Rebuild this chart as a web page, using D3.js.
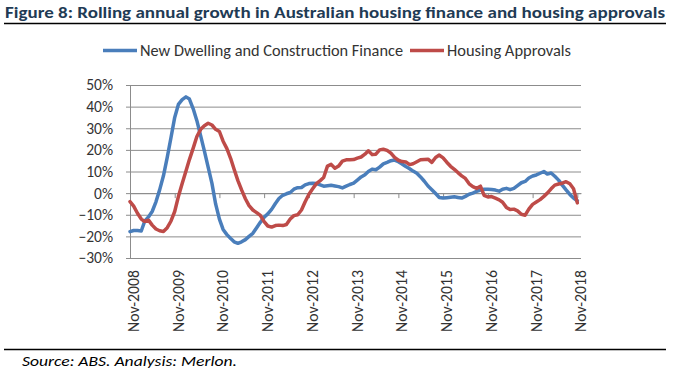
<!DOCTYPE html>
<html>
<head>
<meta charset="utf-8">
<script src="https://cdn.jsdelivr.net/npm/d3@7"></script>
<style>
  body { margin: 0; background: #fff; }
  svg { display: block; font-family: Calibri, Lato, sans-serif; }
</style>
</head>
<body>
<svg width="676" height="372"></svg>
<script>
// monthly rolling annual growth (%), Nov-2008 .. Nov-2018
const financeGrowth = [
  -17.8, -17.3, -17.3, -17.5, -13, -11, -8.5, -4, 1.5, 8, 16.5, 25.5,
  35, 41, 43.2, 44.5, 43.5, 39, 33.5, 26.5, 19.5, 12, 4.5, -5,
  -12, -16.8, -19.2, -21, -22.5, -23.2, -22.5, -21.5, -20, -18.6, -16, -13.5,
  -11.2, -9.6, -7.5, -4.8, -2.5, -1, -0.3, 0.3, 1.8, 2.5, 2.6, 3.8,
  4.4, 4.6, 4.4, 3.8, 3.2, 3.4, 3.6, 3.3, 3, 2.4, 3.2, 4,
  4.6, 6, 7.5, 8.5, 10, 11.1, 10.8, 12, 13.5, 14.2, 15, 15.3,
  14.5, 13.5, 12.3, 11.3, 10.2, 9.2, 7.5, 5.5, 3.3, 1.6, -0.2, -2,
  -2.3, -2.1, -1.9, -1.7, -2, -2.3, -1.5, -0.5, 0, 0.8, 1.4, 1.8,
  1.8, 1.7, 1.4, 0.9, 1.8, 2.2, 1.6, 2.2, 3.5, 4.8, 5.4, 7,
  7.9, 8.4, 9.2, 10, 8.8, 9.3, 7.8, 6, 3.7, 1.5, -0.6, -2.3,
  -3.5
];
const approvalsGrowth = [
  -3.9, -6, -9.3, -12, -13.1, -12.5, -14.8, -16.6, -17.4, -17.7, -16, -13,
  -8.5, -1.6, 4.5, 10.2, 15.5, 20.8, 26.2, 29.5, 31.2, 32.3, 31.5, 29.5,
  28.5, 24, 20.6, 16, 11, 5.8, 1.5, -2.6, -5.8, -7.8, -9, -10.3,
  -13.2, -15.2, -15.7, -15, -14.8, -15, -14.5, -12, -10.4, -10, -7.8, -4,
  -0.5, 2, 4.4, 5.8, 7.2, 12.5, 13.3, 11.5, 12.5, 14.8, 15.4, 15.4,
  15.5, 16.2, 16.7, 18, 19.6, 17.8, 18, 20, 20.3, 19.8, 18.5, 16.5,
  15.2, 14.6, 14.4, 13.2, 13.6, 14.5, 15.4, 15.6, 15.7, 14.2, 16.5, 17.6,
  16.3, 14.3, 12.4, 11, 9.5, 8, 6.8, 4.3, 3, 2.2, 3.2, -1,
  -1.8, -1.6, -2.3, -3.1, -4.2, -6.6, -7.6, -7.4, -8.2, -9.8, -10.2, -7.4,
  -5.2, -4.1, -3, -1.5, 0, 2, 3.7, 4.2, 4.6, 5.3, 4.3, 2,
  -4.5
];
const seriesNames = ["New Dwelling and Construction Finance", "Housing Approvals"];
const seriesColors = ["#4a7ebb", "#be4b48"];
const yTicks = [-0.3, -0.2, -0.1, 0, 0.1, 0.2, 0.3, 0.4, 0.5];
const xTickLabels = ["Nov-2008", "Nov-2009", "Nov-2010", "Nov-2011", "Nov-2012", "Nov-2013",
  "Nov-2014", "Nov-2015", "Nov-2016", "Nov-2017", "Nov-2018"];

const parseTick = d3.timeParse("%b-%Y");
const months = d3.timeMonth.range(new Date(2008, 10, 1), new Date(2018, 11, 1));

const svg = d3.select("svg");
const plot = {left: 130, right: 581, top: 85, bottom: 258};
const tickFont = 15.5;

const x = d3.scaleTime()
    .domain([new Date(2008, 10, 1), new Date(2018, 11, 1)])
    .range([plot.left, plot.right]);

const y = d3.scaleLinear()
    .domain([-0.3, 0.5])
    .range([plot.bottom, plot.top]);

// title + rules
svg.append("text")
    .attr("x", 5).attr("y", 18)
    .attr("font-size", 15.5).attr("font-weight", "bold")
    .attr("fill", "#1f3b55")
    .attr("textLength", 660).attr("lengthAdjust", "spacingAndGlyphs")
    .text("Figure 8: Rolling annual growth in Australian housing finance and housing approvals");

svg.append("line").attr("x1", 4).attr("x2", 666).attr("y1", 23.5).attr("y2", 23.5)
    .attr("stroke", "#000").attr("stroke-width", 1.3);
svg.append("line").attr("x1", 4).attr("x2", 666).attr("y1", 349.5).attr("y2", 349.5)
    .attr("stroke", "#000").attr("stroke-width", 1.3);

svg.append("text")
    .attr("x", 22).attr("y", 366)
    .attr("font-size", 14.5).attr("font-style", "italic")
    .attr("fill", "#000")
    .attr("textLength", 215).attr("lengthAdjust", "spacingAndGlyphs")
    .text("Source: ABS. Analysis: Merlon.");

// y gridlines with labels
const gy = svg.append("g")
    .attr("transform", `translate(${plot.left - 4},0)`)
    .call(d3.axisLeft(y).tickValues(yTicks).tickSize(-(plot.right - plot.left + 4))
        .tickPadding(13).tickFormat(d3.format(".0%")));
gy.select(".domain").remove();
gy.selectAll("line").attr("stroke", "#8c8c8c");
gy.selectAll("text").attr("font-family", "Calibri, Lato, sans-serif")
    .attr("font-size", tickFont).attr("fill", "#333");

// left axis line
svg.append("line")
    .attr("x1", plot.left + 0.5).attr("x2", plot.left + 0.5)
    .attr("y1", plot.top).attr("y2", plot.bottom)
    .attr("stroke", "#8c8c8c");

// category axis crossing at 0%
const xTickDates = xTickLabels.map(parseTick);
const gx = svg.append("g")
    .attr("transform", `translate(0,${y(0)})`)
    .call(d3.axisBottom(x).tickValues(xTickDates).tickSizeInner(5).tickSizeOuter(0).tickFormat(""));
gx.selectAll("line, path").attr("stroke", "#8c8c8c");

// labels at the bottom
const gl = svg.append("g")
    .attr("transform", `translate(0,${plot.bottom})`)
    .call(d3.axisBottom(x).tickValues(xTickDates).tickSize(0).tickFormat(d3.timeFormat("%b-%Y")));
gl.select(".domain").remove();
gl.selectAll("text")
    .attr("font-family", "Calibri, Lato, sans-serif")
    .attr("font-size", tickFont).attr("fill", "#333")
    .attr("transform", "rotate(-90)")
    .attr("text-anchor", "end")
    .attr("textLength", 62).attr("lengthAdjust", "spacingAndGlyphs")
    .attr("x", -12).attr("y", 0).attr("dy", "0.55em");

// lines
const line = d3.line()
    .x((d, i) => x(months[i]))
    .y(d => y(d / 100));

[financeGrowth, approvalsGrowth].forEach((vals, i) => {
  svg.append("path")
      .datum(vals)
      .attr("fill", "none")
      .attr("stroke", seriesColors[i])
      .attr("stroke-width", 3.5)
      .attr("stroke-linejoin", "round")
      .attr("stroke-linecap", "round")
      .attr("d", line);
});

// legend
const legendX = [103, 410];
const legendLen = [263, 124];
const legend = svg.append("g");
seriesNames.forEach((name, i) => {
  legend.append("line")
      .attr("x1", legendX[i]).attr("x2", legendX[i] + 34)
      .attr("y1", 50.5).attr("y2", 50.5)
      .attr("stroke", seriesColors[i]).attr("stroke-width", 3.5);
  legend.append("text")
      .attr("x", legendX[i] + 37).attr("y", 56)
      .attr("font-size", tickFont).attr("fill", "#333")
      .attr("textLength", legendLen[i]).attr("lengthAdjust", "spacingAndGlyphs")
      .text(name);
});
</script>
</body>
</html>
